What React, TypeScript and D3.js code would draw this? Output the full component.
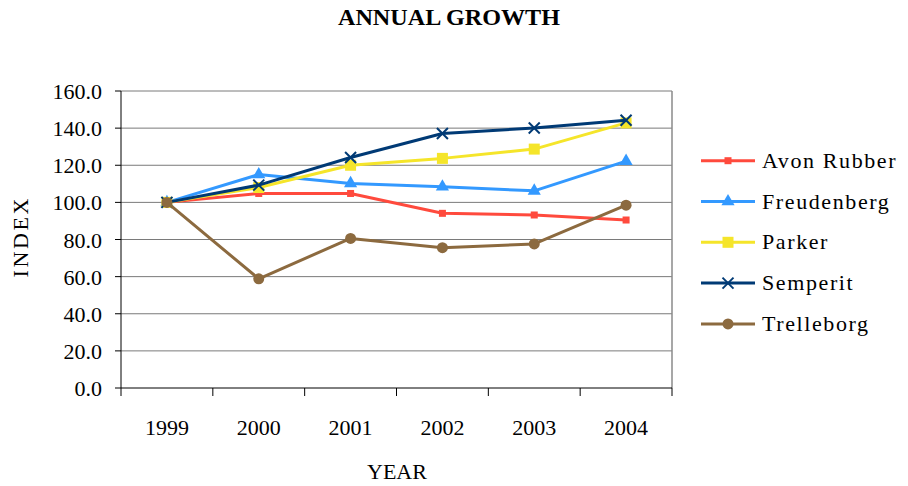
import React from "react";
import * as d3 from "d3";

const width = 908;
const height = 486;
const margin = { top: 91, right: 236, bottom: 98, left: 121 };

const years = ["1999", "2000", "2001", "2002", "2003", "2004"];
const yTicks = [0, 20, 40, 60, 80, 100, 120, 140, 160];

const avonRubber = [100, 104.8, 104.8, 94.1, 93.2, 90.5];
const freudenberg = [100, 115, 110.2, 108.4, 106.2, 122.2];
const parker = [100, 108, 120, 123.7, 128.7, 142.8];
const semperit = [100, 109.3, 124.2, 137.1, 140.1, 144.2];
const trelleborg = [100, 58.8, 80.6, 75.6, 77.6, 98.5];

const series = [
  { name: "Avon Rubber", values: avonRubber, color: "#ff4a3d", marker: "smallSquare" },
  { name: "Freudenberg", values: freudenberg, color: "#3399ff", marker: "triangle" },
  { name: "Parker", values: parker, color: "#f5e52a", marker: "square" },
  { name: "Semperit", values: semperit, color: "#003a75", marker: "cross" },
  { name: "Trelleborg", values: trelleborg, color: "#8c6a3f", marker: "circle" },
];

const font = "Liberation Serif, Times New Roman, serif";

function Marker({ type, x, y, color }: { type: string; x: number; y: number; color: string }) {
  if (type === "smallSquare") return <rect x={x - 3.5} y={y - 3.5} width={7} height={7} fill={color} />;
  if (type === "square") return <rect x={x - 5.5} y={y - 5.5} width={11} height={11} fill={color} />;
  if (type === "triangle") {
    const p = d3.symbol().type(d3.symbolTriangle).size(75)();
    return <path d={p || ""} transform={`translate(${x},${y})`} fill={color} />;
  }
  if (type === "circle") return <circle cx={x} cy={y} r={5.5} fill={color} />;
  // cross
  const s = 5.5;
  return (
    <g stroke={color} strokeWidth={2}>
      <line x1={x - s} y1={y - s} x2={x + s} y2={y + s} />
      <line x1={x - s} y1={y + s} x2={x + s} y2={y - s} />
    </g>
  );
}

export default function App() {
  const iw = width - margin.left - margin.right;
  const ih = height - margin.top - margin.bottom;

  const x = d3.scaleBand().domain(years).range([margin.left, margin.left + iw]);
  const y = d3.scaleLinear().domain([0, 160]).range([margin.top + ih, margin.top]);
  const cx = (d: string) => (x(d) as number) + x.bandwidth() / 2;

  const line = d3
    .line<number>()
    .x((_, i) => cx(years[i]))
    .y((v) => y(v));

  const bottom = margin.top + ih;
  const right = margin.left + iw;

  return (
    <svg width={width} height={height} fontFamily={font}
      style={{ position: "absolute", left: 0, top: 0, fontFamily: font }}>
      <rect width={width} height={height} fill="#fff" />
      <text x={449} y={25} textAnchor="middle" fontWeight="bold" fontSize={23}
        textLength={222} lengthAdjust="spacingAndGlyphs">ANNUAL GROWTH</text>

      {yTicks.map((t) => (
        <g key={t}>
          {t > 0 && <line x1={margin.left} x2={right} y1={y(t)} y2={y(t)} stroke="#7a7a7a" strokeWidth={1} />}
          <line x1={margin.left - 6} x2={margin.left} y1={y(t)} y2={y(t)} stroke="#000" />
          <text x={102} y={y(t) + 8} textAnchor="end" fontSize={22}>{t.toFixed(1)}</text>
        </g>
      ))}
      <line x1={right} x2={right} y1={margin.top} y2={bottom} stroke="#8a8a8a" strokeWidth={1.5} />
      <line x1={margin.left} x2={margin.left} y1={margin.top} y2={bottom} stroke="#000" strokeWidth={1} />
      <line x1={margin.left} x2={right} y1={bottom} y2={bottom} stroke="#000" strokeWidth={1} />
      {[...years.map((d) => x(d) as number), right].map((p, i) => (
        <line key={i} x1={p} x2={p} y1={bottom} y2={bottom + 8} stroke="#000" />
      ))}
      {years.map((d) => (
        <text key={d} x={cx(d)} y={435} textAnchor="middle" fontSize={22}>{d}</text>
      ))}

      <text x={397} y={479} textAnchor="middle" fontSize={22}>YEAR</text>
      <text transform="translate(28,238) rotate(-90)" textAnchor="middle" fontSize={22}
        textLength={79} lengthAdjust="spacing">INDEX</text>

      {series.map((s) => (
        <g key={s.name}>
          <path d={line(s.values) || ""} fill="none" stroke={s.color} strokeWidth={3} strokeLinejoin="round" />
          {s.values.map((v, i) => (
            <Marker key={i} type={s.marker} x={cx(years[i])} y={y(v)} color={s.color} />
          ))}
        </g>
      ))}

      {series.map((s, i) => {
        const ly = 160.7 + i * 40.8;
        return (
          <g key={s.name}>
            <line x1={701} x2={755} y1={ly} y2={ly} stroke={s.color} strokeWidth={3} />
            <Marker type={s.marker} x={728} y={ly} color={s.color} />
            <text x={762} y={ly + 7} fontSize={22} letterSpacing={1.6}>{s.name}</text>
          </g>
        );
      })}
    </svg>
  );
}
